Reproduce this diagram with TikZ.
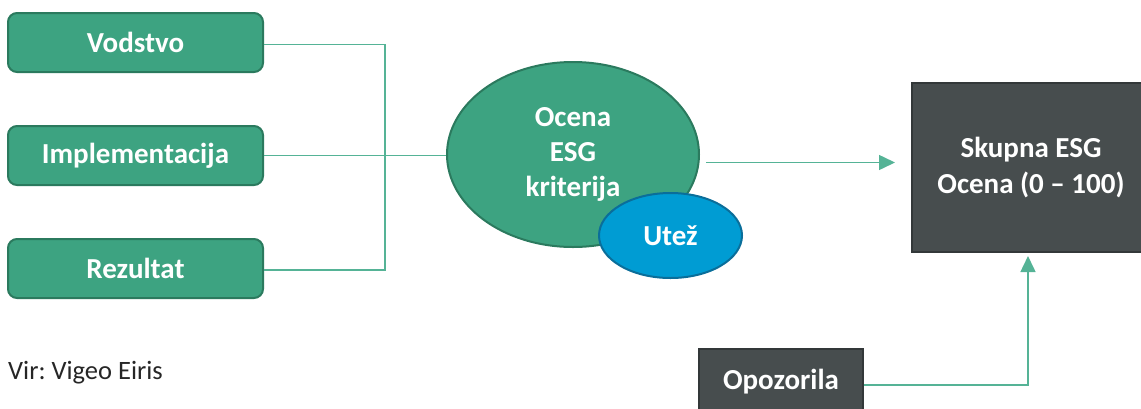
\documentclass[tikz,border=0pt]{standalone}
\usepackage{fontspec}
\setmainfont{Carlito}
\usepackage{tikz}
\usetikzlibrary{positioning, shapes.geometric, arrows.meta}
\definecolor{esggreen}{HTML}{3DA381}
\definecolor{esgborder}{HTML}{2B7A5E}
\definecolor{esgline}{HTML}{55B396}
\definecolor{esgblue}{HTML}{009CD3}
\definecolor{esgblueborder}{HTML}{0A6E9A}
\definecolor{esgdark}{HTML}{474D4E}
\definecolor{esgdarkborder}{HTML}{333839}
\frenchspacing

\begin{document}
\begin{tikzpicture}[
        x=1pt, y=-1pt,
        node distance=52pt and 60pt,
        critbox/.style={rectangle, draw=esgborder, line width=2pt, rounded corners=9pt, fill=esggreen, minimum width=255pt, minimum height=59pt, align=center, text=white, font=\fontsize{29}{35}\selectfont\bfseries},
        bigell/.style={ellipse, draw=esgborder, line width=2pt, fill=esggreen, minimum width=252pt, minimum height=185pt, inner sep=0pt, align=center, text=white, font=\fontsize{29}{35}\selectfont\bfseries},
        smallell/.style={ellipse, draw=esgblueborder, line width=2pt, fill=esgblue, minimum width=143pt, minimum height=85pt, inner sep=0pt, align=center, text=white, font=\fontsize{29}{35}\selectfont\bfseries},
        darkbox/.style={rectangle, draw=esgdarkborder, line width=2pt, fill=esgdark, align=center, text=white, font=\fontsize{29}{36}\selectfont\bfseries},
        link/.style={draw=esgline, line width=1.5pt},
        arrow/.style={link, -{Triangle[length=16pt, width=15pt]}}
    ]
    \useasboundingbox (0,0) rectangle (1141,408);

    % KRITERIJI
    \node[critbox] (vod) at (135.5,42.5) {Vodstvo};
    \node[critbox, below=52pt of vod] (impl) {Implementacija};
    \node[critbox, below=52pt of impl] (rez) {Rezultat};

    % OCENA
    \node[bigell] (ocena) at (573,154.5) {Ocena\\ESG\\kriterija};
    \node[smallell] (utez) at (670.5,235.5) {Utež};

    % SKUPNA OCENA
    \node[darkbox, minimum width=238pt, minimum height=169pt] (skupna) at (1031,167.5) {Skupna ESG\\Ocena (0 – 100)};
    \node[darkbox, minimum width=164pt, minimum height=66pt] (opoz) at (781,382) {Opozorila};

    % Vir
    \node[anchor=west, inner sep=0pt, text=black!85, font=\fontsize{26.5}{30}\selectfont] (vir) at (8,373) {Vir: Vigeo Eiris};

    % Povezave
    \coordinate (bus) at (385,0);
    \draw[link] ([yshift=-2pt]vod.east) -- ([yshift=-2pt]vod.east -| bus) -- ([yshift=-1.5pt]rez.east -| bus) -- ([yshift=-1.5pt]rez.east);
    \draw[link] (impl.east) -- (impl.east -| ocena.west);
    \coordinate (a1) at ([xshift=6pt, yshift=-8pt]ocena.east);
    \draw[arrow, shorten >=16pt] (a1) -- (a1 -| skupna.west);
    \draw[arrow, shorten >=3pt] ([yshift=-3pt]opoz.east) -| ([xshift=-3pt]skupna.south);
\end{tikzpicture}
\end{document}
